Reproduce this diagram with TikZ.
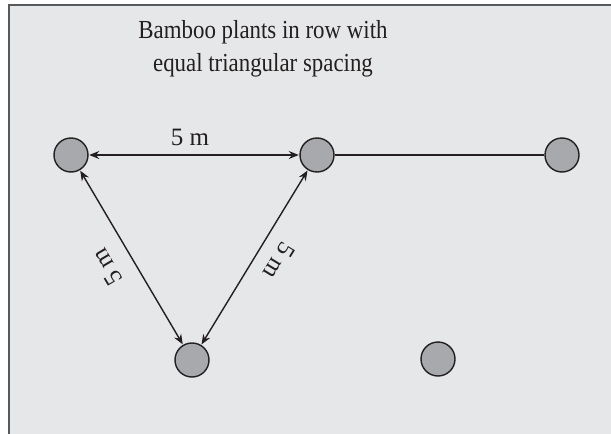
\documentclass[tikz,border=0pt]{standalone}
\usepackage{fontspec}
\setmainfont{Liberation Serif}
\usetikzlibrary{arrows.meta}
\definecolor{bg}{HTML}{E6E7E8}
\definecolor{plantfill}{HTML}{A7A9AC}
\definecolor{frame}{HTML}{58595B}
\definecolor{ink}{HTML}{231F20}
\tikzset{
  plant/.style={circle, draw=ink, line width=1.4pt, fill=plantfill, minimum size=34pt, inner sep=0pt},
  dim/.style={ink, line width=1.4pt, {Stealth[length=10pt,width=8pt]}-{Stealth[length=10pt,width=8pt]}, shorten <=0.5pt, shorten >=0.5pt},
  lbl/.style={font=\fontsize{25}{30}\selectfont, text=ink, inner sep=0pt},
}
\begin{document}
\begin{tikzpicture}[x=1pt,y=-1pt]
\useasboundingbox (0,0) rectangle (611,434);
\begin{scope}
\clip (0,0) rectangle (611,434);
\draw[fill=bg, draw=frame, line width=1.8pt] (9,5) rectangle (640,460);
\end{scope}
\node[lbl, font=\fontsize{26}{33}\selectfont] (title) at (263,48) {\scalebox{0.88}[1]{\begin{tabular}{@{}c@{}}Bamboo plants in row with\\equal triangular spacing\end{tabular}}};
\node[plant] (p1) at (71,155) {};
\node[plant] (p2) at (317,155) {};
\node[plant] (p3) at (562,155) {};
\node[plant] (p4) at (192,360) {};
\node[plant] (p5) at (438,359) {};
\draw[ink, line width=1.4pt] (p2) -- (p3);
\draw[dim] (p1) -- (p2);
\draw[dim] (p1) -- (p4);
\draw[dim] (p2) -- (p4);
\node[lbl] (l12) at (190,137) {5 m};
\node[lbl, rotate=120.6] (l14) at (107,267) {5 m};
\node[lbl, rotate=-121.4] (l24) at (279,261) {5 m};
\end{tikzpicture}
\end{document}
